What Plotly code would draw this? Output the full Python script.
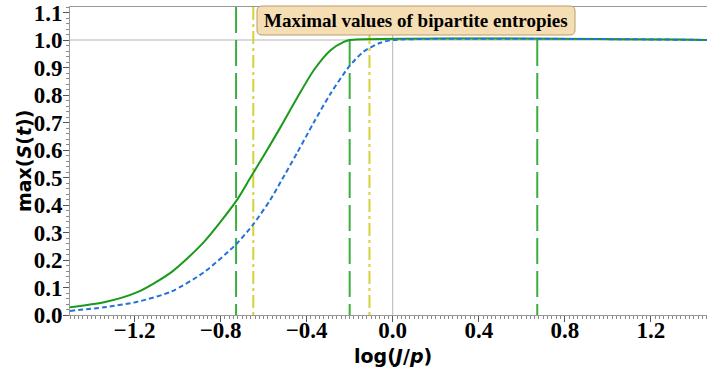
import plotly.graph_objects as go

# ---- data ----
green_x = [-1.5, -1.342, -1.187, -1.03, -0.878, -0.727, -0.661, -0.599, -0.52, -0.444,
           -0.367, -0.289, -0.227, -0.2, 1.5]
green_y = [0.028, 0.046, 0.083, 0.155, 0.265, 0.415, 0.50, 0.58, 0.685, 0.79,
           0.89, 0.963, 0.993, 1.0, 1.0]

blue_x = [-1.5, -1.342, -1.187, -1.03, -0.878, -0.727, -0.648, -0.568, -0.52, -0.444,
          -0.367, -0.289, -0.204, -0.135, -0.057, 0.0, 1.5]
blue_y = [0.015, 0.028, 0.048, 0.085, 0.155, 0.258, 0.33, 0.42, 0.485, 0.59,
          0.70, 0.805, 0.902, 0.958, 0.99, 1.0, 1.0]

green_vlines = [-0.728, -0.200, 0.672]
yellow_vlines = [-0.648, -0.108]

ref_h = [1.0]
ref_v = [0.0]

x_ticks = [-1.2, -0.8, -0.4, 0.0, 0.4, 0.8, 1.2]
y_ticks = [0.0, 0.1, 0.2, 0.3, 0.4, 0.5, 0.6, 0.7, 0.8, 0.9, 1.0, 1.1]

title_text = "Maximal values of bipartite entropies"
x_title = "log(<i>J</i>/<i>p</i>)"
y_title = "max(<i>S</i>(<i>t</i>))"

XR = [-1.5, 1.461]
YR = [0.0, 1.12]

fig = go.Figure()

# grey reference lines
for h in ref_h:
    fig.add_trace(go.Scatter(x=XR, y=[h, h], mode="lines",
                             line=dict(color="#b4b4b4", width=1), hoverinfo="skip"))
for v in ref_v:
    fig.add_trace(go.Scatter(x=[v, v], y=YR, mode="lines",
                             line=dict(color="#b4b4b4", width=1), hoverinfo="skip"))

# vertical markers
for v in green_vlines:
    fig.add_trace(go.Scatter(x=[v, v], y=[YR[1], YR[0]], mode="lines",
                             line=dict(color="#3cae3c", width=2, dash="26px,7px"),
                             hoverinfo="skip"))
for v in yellow_vlines:
    fig.add_trace(go.Scatter(x=[v, v], y=[YR[1], YR[0]], mode="lines",
                             line=dict(color="#d6d23a", width=2, dash="13px,4px,3px,4px"),
                             hoverinfo="skip"))

# curves
fig.add_trace(go.Scatter(x=green_x, y=green_y, mode="lines",
                         line=dict(color="#1a9a1a", width=2, shape="spline", smoothing=0.7)))
fig.add_trace(go.Scatter(x=blue_x, y=blue_y, mode="lines",
                         line=dict(color="#2272d8", width=2, dash="5px,3px",
                                   shape="spline", smoothing=0.7)))

# plot geometry (pixels)
L, T, B = 70, 7, 56
W, H = 707, 371
PW, PH = W - L, H - T - B


def px2paper(px, py):
    return (px - L) / PW, (H - B - py) / PH


# rounded title box
bx0, by0 = px2paper(257, 35)
bx1, by1 = px2paper(575, 6)
rx, ry = 5 / PW, 5 / PH
path = (f"M {bx0+rx},{by1} L {bx1-rx},{by1} Q {bx1},{by1} {bx1},{by1-ry} "
        f"L {bx1},{by0+ry} Q {bx1},{by0} {bx1-rx},{by0} L {bx0+rx},{by0} "
        f"Q {bx0},{by0} {bx0},{by0+ry} L {bx0},{by1-ry} Q {bx0},{by1} {bx0+rx},{by1} Z")
fig.add_shape(type="path", path=path, xref="paper", yref="paper",
              fillcolor="#f5deb3", line=dict(color="#b89c70", width=1), layer="above")

tx, ty = px2paper(416, 21)
fig.add_annotation(x=tx, y=ty, xref="paper", yref="paper", text=title_text,
                   showarrow=False, xanchor="center", yanchor="middle",
                   font=dict(family="Liberation Serif", size=19, color="black", weight="bold"))

# axis titles as annotations
fig.add_annotation(x=0.0, xref="x", y=px2paper(0, 356)[1], yref="paper", text=x_title,
                   showarrow=False, xanchor="center", yanchor="middle",
                   font=dict(family="DejaVu Sans", size=19, color="black", weight="bold"))
fig.add_annotation(x=px2paper(24, 0)[0], xref="paper", y=0.5, yref="paper", text=y_title,
                   showarrow=False, xanchor="center", yanchor="middle", textangle=-90,
                   font=dict(family="DejaVu Sans", size=19, color="black", weight="bold"))

axis_common = dict(
    showgrid=False, zeroline=False, showline=True, linecolor="#999999", linewidth=1,
    ticks="outside", ticklen=6, tickwidth=1, tickcolor="#555555",
    tickfont=dict(family="Liberation Serif", size=23, color="black", weight="bold"),
    tickformat=".1f", automargin=False,
)

fig.update_xaxes(range=XR, tickmode="array", tickvals=x_ticks, mirror=True,
                 ticklabelstandoff=-12,
                 minor=dict(dtick=0.02, tick0=0, ticks="outside", ticklen=3,
                            tickcolor="#888888", tickwidth=1),
                 **axis_common)
fig.update_yaxes(range=YR, tickmode="array", tickvals=y_ticks, mirror=True,
                 ticklabelstandoff=-4,
                 minor=dict(dtick=0.02, tick0=0, ticks="outside", ticklen=3,
                            tickcolor="#888888", tickwidth=1),
                 **axis_common)

fig.update_layout(
    width=W, height=H,
    margin=dict(l=L, r=0, t=T, b=B, pad=0),
    paper_bgcolor="white", plot_bgcolor="white",
    showlegend=False,
)

fig.write_html("out.html")
